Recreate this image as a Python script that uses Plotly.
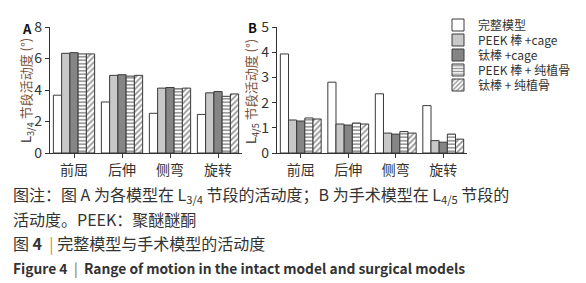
import plotly.graph_objects as go

categories = ["前屈", "后伸", "侧弯", "旋转"]
series_names = ["完整模型", "PEEK 棒 +cage", "钛棒 +cage", "PEEK 棒 + 纯植骨", "钛棒 + 纯植骨"]

# Panel A: L3/4
a_intact = [3.67, 3.24, 2.52, 2.45]
a_peek_cage = [6.33, 4.93, 4.12, 3.82]
a_ti_cage = [6.37, 4.97, 4.16, 3.90]
a_peek_graft = [6.29, 4.88, 4.07, 3.60]
a_ti_graft = [6.29, 4.93, 4.12, 3.75]

# Panel B: L4/5
b_intact = [3.93, 2.81, 2.35, 1.88]
b_peek_cage = [1.31, 1.15, 0.79, 0.49]
b_ti_cage = [1.27, 1.11, 0.75, 0.43]
b_peek_graft = [1.39, 1.19, 0.85, 0.75]
b_ti_graft = [1.35, 1.15, 0.79, 0.55]

OFF = 8  # default page body margin
W, H = 586 - OFF, 283 - OFF
FONT = "Noto Sans CJK SC"
DARK = "#333333"
BROWN = "#7a5238"

styles = [
    dict(color="white", pattern=None),
    dict(color="#c8c8c8", pattern=None),
    dict(color="#858585", pattern=None),
    dict(color="white", pattern=dict(shape="-", fgcolor="#222222", bgcolor="white", size=3.5, solidity=0.45)),
    dict(color="white", pattern=dict(shape="/", fgcolor="#222222", bgcolor="white", size=4, solidity=0.4)),
]

def px(x):
    return (x - OFF) / W

def py(y):
    return 1 - (y - OFF) / H

fig = go.Figure()
a_data = [a_intact, a_peek_cage, a_ti_cage, a_peek_graft, a_ti_graft]
b_data = [b_intact, b_peek_cage, b_ti_cage, b_peek_graft, b_ti_graft]
legend_ids = ["legend", "legend2", "legend3", "legend4", "legend5"]
legend_rows = [25, 40, 55, 70, 85]
for i, (name, st) in enumerate(zip(series_names, styles)):
    marker = dict(color=st["color"], line=dict(color="#3a3a3a", width=1))
    if st["pattern"]:
        marker["pattern"] = st["pattern"]
    fig.add_trace(go.Bar(x=categories, y=a_data[i], name=name, marker=marker,
                         xaxis="x", yaxis="y", showlegend=True, legendgroup=name,
                         legend=legend_ids[i]))
    fig.add_trace(go.Bar(x=categories, y=b_data[i], name=name, marker=marker,
                         xaxis="x2", yaxis="y2", showlegend=False, legendgroup=name,
                         legend=legend_ids[i]))

axis_common = dict(showline=True, linecolor=DARK, linewidth=1.2, ticks="outside",
                   tickcolor=DARK, ticklen=4, showgrid=False, zeroline=False,
                   automargin=False,
                   tickfont=dict(family=FONT, size=14, color=DARK))

layout = dict(
    width=W, height=H,
    margin=dict(l=0, r=0, t=0, b=0, autoexpand=False),
    paper_bgcolor="white", plot_bgcolor="white",
    barmode="group", bargap=0.14, bargroupgap=0.0,
    font=dict(family=FONT, color=DARK),
    xaxis=dict(domain=[px(50), px(242)], anchor="y", **axis_common),
    yaxis=dict(domain=[py(153), py(27)], anchor="x", range=[0, 8], tickvals=[0, 2, 4, 6, 8],
               **axis_common),
    xaxis2=dict(domain=[px(277), px(467)], anchor="y2", **axis_common),
    yaxis2=dict(domain=[py(153), py(27)], anchor="x2", range=[0, 5], tickvals=[0, 1, 2, 3, 4, 5],
                **axis_common),
)
for lid, row in zip(legend_ids, legend_rows):
    layout[lid] = dict(x=px(438), y=py(row), xanchor="left", yanchor="middle",
                       font=dict(family=FONT, size=12, color=DARK),
                       itemwidth=30, bgcolor="rgba(0,0,0,0)", borderwidth=0)
fig.update_layout(**layout)

annotations = [
    dict(text="<b>A</b>", x=px(20), y=py(28), font=dict(size=13, color="#111111")),
    dict(text="<b>B</b>", x=px(246), y=py(27), font=dict(size=13, color="#111111")),
    dict(text=f"L<sub>3/4</sub> <span style='color:{BROWN}'>节段活动度 (°)</span>",
         x=px(27), y=py(91), textangle=-90, xanchor="center",
         font=dict(size=13, color=DARK)),
    dict(text=f"L<sub>4/5</sub> <span style='color:{BROWN}'>节段活动度 (°)</span>",
         x=px(252), y=py(91), textangle=-90, xanchor="center",
         font=dict(size=13, color=DARK)),
    dict(text="图注：图 A 为各模型在 L<sub>3/4</sub> 节段的活动度；B 为手术模型在 L<sub>4/5</sub> 节段的",
         x=px(11), y=py(194), font=dict(size=16, color=DARK)),
    dict(text="活动度。PEEK：聚醚醚酮", x=px(11), y=py(219), font=dict(size=16, color=DARK)),
    dict(text="图 <b>4</b>  <span style='color:#d08a3a'>|</span> 完整模型与手术模型的活动度",
         x=px(11), y=py(243), font=dict(size=16, color=DARK)),
    dict(text="<b>Figure 4  <span style='color:#999999'>|</span>  Range of motion in the intact model and surgical models</b>",
         x=px(11), y=py(268), font=dict(size=13.8, color=DARK)),
]
for a in annotations:
    a.setdefault("xanchor", "left")
    a.update(xref="paper", yref="paper", yanchor="middle", showarrow=False)
    a["font"]["family"] = FONT
fig.update_layout(annotations=annotations)

fig.write_html("out.html")
